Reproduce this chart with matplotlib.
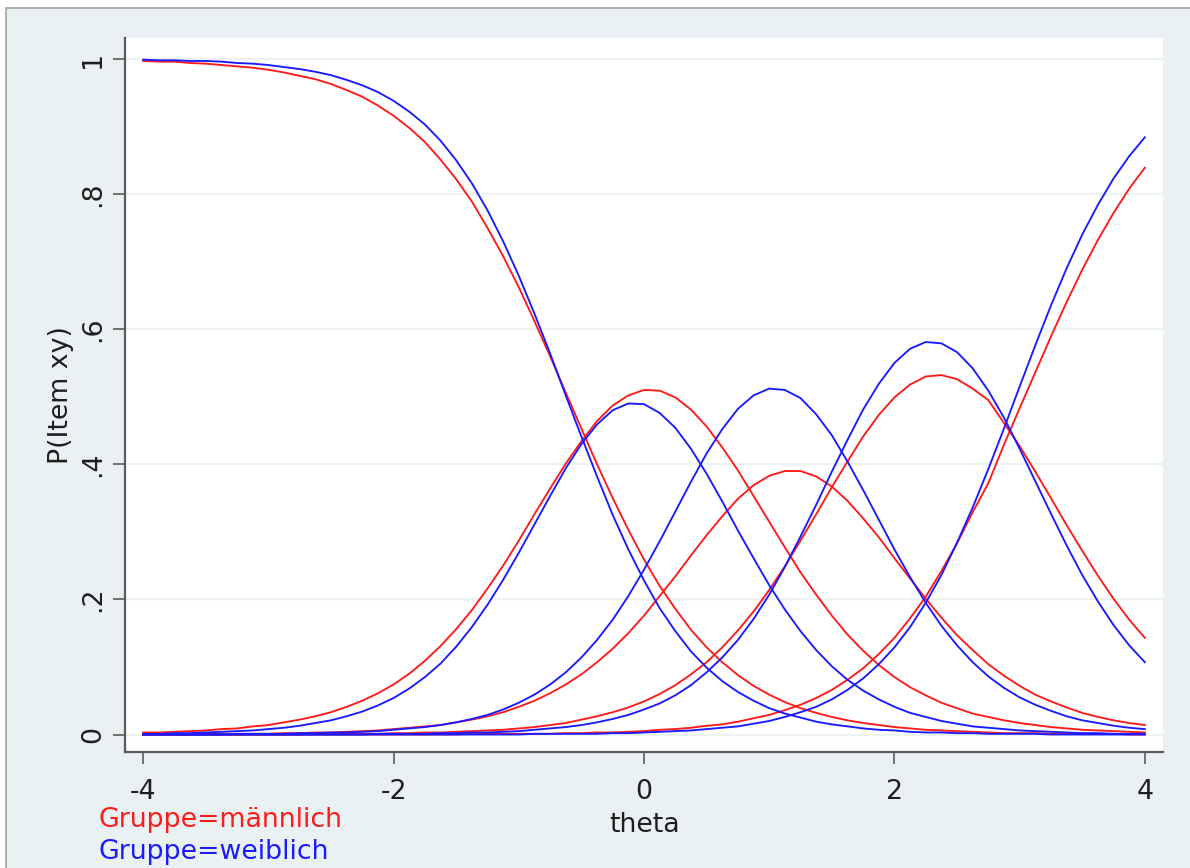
import matplotlib
matplotlib.use('Agg')
import matplotlib.pyplot as plt
from matplotlib.patches import Rectangle

plt.rcParams['font.family'] = ['DejaVu Sans']

# ---------------- data ----------------
theta = [-4.000, -3.875, -3.750, -3.625, -3.500, -3.375, -3.250, -3.125, -3.000, -2.875,
         -2.750, -2.625, -2.500, -2.375, -2.250, -2.125, -2.000, -1.875, -1.750, -1.625,
         -1.500, -1.375, -1.250, -1.125, -1.000, -0.875, -0.750, -0.625, -0.500, -0.375,
         -0.250, -0.125, 0.000, 0.125, 0.250, 0.375, 0.500, 0.625, 0.750, 0.875,
         1.000, 1.125, 1.250, 1.375, 1.500, 1.625, 1.750, 1.875, 2.000, 2.125,
         2.250, 2.375, 2.500, 2.625, 2.750, 2.875, 3.000, 3.125, 3.250, 3.375,
         3.500, 3.625, 3.750, 3.875, 4.000]

# Gruppe = maennlich (red)
m_cat0 = [0.997, 0.996, 0.996, 0.994, 0.993, 0.991, 0.989, 0.987, 0.984, 0.980,
          0.975, 0.970, 0.963, 0.954, 0.944, 0.931, 0.916, 0.898, 0.877, 0.851,
          0.822, 0.789, 0.750, 0.708, 0.662, 0.612, 0.560, 0.506, 0.453, 0.400,
          0.350, 0.303, 0.259, 0.220, 0.186, 0.155, 0.129, 0.107, 0.088, 0.072,
          0.059, 0.048, 0.039, 0.032, 0.026, 0.021, 0.017, 0.014, 0.011, 0.009,
          0.007, 0.006, 0.005, 0.004, 0.003, 0.002, 0.002, 0.002, 0.001, 0.001,
          0.001, 0.001, 0.001, 0.000, 0.000]
m_cat1 = [0.003, 0.003, 0.004, 0.005, 0.006, 0.008, 0.009, 0.012, 0.014, 0.018,
          0.022, 0.027, 0.033, 0.041, 0.050, 0.061, 0.074, 0.090, 0.109, 0.131,
          0.156, 0.184, 0.216, 0.250, 0.287, 0.326, 0.364, 0.401, 0.434, 0.464,
          0.487, 0.502, 0.510, 0.509, 0.499, 0.481, 0.456, 0.425, 0.391, 0.353,
          0.315, 0.277, 0.240, 0.207, 0.176, 0.148, 0.124, 0.103, 0.085, 0.070,
          0.058, 0.047, 0.039, 0.031, 0.026, 0.021, 0.017, 0.014, 0.011, 0.009,
          0.007, 0.006, 0.005, 0.004, 0.003]
m_cat2 = [0.000, 0.000, 0.000, 0.000, 0.001, 0.001, 0.001, 0.001, 0.001, 0.002,
          0.002, 0.003, 0.003, 0.004, 0.005, 0.006, 0.008, 0.010, 0.012, 0.014,
          0.018, 0.022, 0.027, 0.033, 0.041, 0.050, 0.061, 0.074, 0.089, 0.107,
          0.127, 0.150, 0.176, 0.205, 0.234, 0.265, 0.295, 0.323, 0.349, 0.369,
          0.383, 0.390, 0.390, 0.382, 0.367, 0.346, 0.320, 0.292, 0.261, 0.231,
          0.201, 0.173, 0.147, 0.125, 0.104, 0.087, 0.072, 0.059, 0.049, 0.040,
          0.032, 0.026, 0.021, 0.017, 0.014]
m_cat3 = [0.000, 0.000, 0.000, 0.000, 0.000, 0.000, 0.000, 0.000, 0.000, 0.000,
          0.000, 0.001, 0.001, 0.001, 0.001, 0.001, 0.002, 0.002, 0.003, 0.003,
          0.004, 0.005, 0.006, 0.007, 0.009, 0.011, 0.014, 0.017, 0.022, 0.027,
          0.033, 0.040, 0.049, 0.060, 0.073, 0.089, 0.107, 0.129, 0.154, 0.182,
          0.214, 0.249, 0.287, 0.326, 0.366, 0.404, 0.441, 0.473, 0.499, 0.518,
          0.530, 0.532, 0.526, 0.512, 0.495, 0.461, 0.427, 0.389, 0.350, 0.310,
          0.272, 0.235, 0.201, 0.170, 0.143]
m_cat4 = [0.000, 0.000, 0.000, 0.000, 0.000, 0.000, 0.000, 0.000, 0.000, 0.000,
          0.000, 0.000, 0.000, 0.000, 0.000, 0.000, 0.000, 0.000, 0.000, 0.000,
          0.000, 0.001, 0.001, 0.001, 0.001, 0.001, 0.001, 0.002, 0.002, 0.003,
          0.003, 0.004, 0.005, 0.007, 0.008, 0.010, 0.013, 0.015, 0.019, 0.024,
          0.029, 0.036, 0.044, 0.054, 0.066, 0.081, 0.098, 0.119, 0.143, 0.172,
          0.204, 0.242, 0.283, 0.329, 0.372, 0.429, 0.483, 0.536, 0.589, 0.640,
          0.688, 0.732, 0.772, 0.808, 0.839]

# Gruppe = weiblich (blue)
w_cat0 = [0.999, 0.998, 0.998, 0.997, 0.997, 0.996, 0.994, 0.993, 0.991, 0.988,
          0.985, 0.981, 0.976, 0.969, 0.961, 0.951, 0.938, 0.922, 0.903, 0.879,
          0.850, 0.816, 0.776, 0.730, 0.679, 0.623, 0.564, 0.502, 0.441, 0.382,
          0.325, 0.274, 0.228, 0.187, 0.153, 0.123, 0.099, 0.079, 0.063, 0.050,
          0.039, 0.031, 0.025, 0.019, 0.015, 0.012, 0.009, 0.007, 0.006, 0.004,
          0.003, 0.003, 0.002, 0.002, 0.001, 0.001, 0.001, 0.001, 0.000, 0.000,
          0.000, 0.000, 0.000, 0.000, 0.000]
w_cat1 = [0.001, 0.001, 0.002, 0.002, 0.003, 0.004, 0.005, 0.006, 0.008, 0.010,
          0.013, 0.017, 0.021, 0.027, 0.034, 0.043, 0.054, 0.068, 0.085, 0.105,
          0.130, 0.159, 0.192, 0.229, 0.269, 0.311, 0.353, 0.394, 0.430, 0.459,
          0.480, 0.490, 0.489, 0.476, 0.454, 0.423, 0.386, 0.345, 0.302, 0.261,
          0.221, 0.185, 0.153, 0.125, 0.101, 0.081, 0.065, 0.052, 0.041, 0.032,
          0.026, 0.020, 0.016, 0.012, 0.010, 0.008, 0.006, 0.005, 0.004, 0.003,
          0.002, 0.002, 0.001, 0.001, 0.001]
w_cat2 = [0.000, 0.000, 0.000, 0.000, 0.000, 0.000, 0.001, 0.001, 0.001, 0.001,
          0.002, 0.002, 0.003, 0.003, 0.004, 0.005, 0.007, 0.009, 0.011, 0.014,
          0.018, 0.023, 0.029, 0.037, 0.047, 0.059, 0.074, 0.092, 0.114, 0.140,
          0.170, 0.205, 0.244, 0.286, 0.330, 0.374, 0.416, 0.452, 0.482, 0.502,
          0.512, 0.510, 0.498, 0.474, 0.443, 0.404, 0.362, 0.318, 0.274, 0.233,
          0.195, 0.161, 0.132, 0.107, 0.086, 0.069, 0.055, 0.044, 0.035, 0.027,
          0.021, 0.017, 0.013, 0.010, 0.008]
w_cat3 = [0.000, 0.000, 0.000, 0.000, 0.000, 0.000, 0.000, 0.000, 0.000, 0.000,
          0.000, 0.000, 0.000, 0.000, 0.000, 0.001, 0.001, 0.001, 0.001, 0.002,
          0.002, 0.003, 0.003, 0.004, 0.005, 0.007, 0.009, 0.011, 0.014, 0.018,
          0.023, 0.029, 0.037, 0.046, 0.058, 0.073, 0.092, 0.114, 0.140, 0.171,
          0.207, 0.248, 0.293, 0.340, 0.389, 0.436, 0.481, 0.519, 0.550, 0.571,
          0.581, 0.579, 0.566, 0.542, 0.509, 0.469, 0.423, 0.375, 0.327, 0.280,
          0.236, 0.197, 0.162, 0.132, 0.107]
w_cat4 = [0.000, 0.000, 0.000, 0.000, 0.000, 0.000, 0.000, 0.000, 0.000, 0.000,
          0.000, 0.000, 0.000, 0.000, 0.000, 0.000, 0.000, 0.000, 0.000, 0.000,
          0.000, 0.000, 0.000, 0.000, 0.000, 0.001, 0.001, 0.001, 0.001, 0.001,
          0.002, 0.002, 0.003, 0.004, 0.005, 0.006, 0.008, 0.010, 0.012, 0.016,
          0.020, 0.026, 0.033, 0.041, 0.052, 0.066, 0.083, 0.104, 0.129, 0.159,
          0.195, 0.236, 0.284, 0.336, 0.393, 0.453, 0.515, 0.576, 0.635, 0.690,
          0.740, 0.784, 0.823, 0.856, 0.884]

y_ticks = [0, 0.2, 0.4, 0.6, 0.8, 1.0]
y_ticklabels = ['0', '.2', '.4', '.6', '.8', '1']
x_ticks = [-4, -2, 0, 2, 4]
x_ticklabels = ['-4', '-2', '0', '2', '4']
x_title = 'theta'
y_title = 'P(Item xy)'
legend_labels = ['Gruppe=männlich', 'Gruppe=weiblich']

# ---------------- style ----------------
W, H = 1190, 868
BG = '#EAF1F3'
AXC = '#5A5A5A'
TXT = '#1E1E1E'
RED = '#FF1A1A'
BLUE = '#1A1AFF'
FS = 19.3

fig = plt.figure(figsize=(W / 100, H / 100), dpi=100)
fig.patch.set_facecolor('white')
fig.patches.append(Rectangle((6 / W, -0.02), 1.05, 1 - 8 / H + 0.02,
                             transform=fig.transFigure, facecolor=BG,
                             edgecolor='#A8A8A8', lw=1.3, zorder=-10))

ax = fig.add_axes([125 / W, 1 - 752 / H, (1163 - 125) / W, (752 - 38) / H])
ax.set_facecolor('white')

m_series = [m_cat0, m_cat1, m_cat2, m_cat3, m_cat4]
w_series = [w_cat0, w_cat1, w_cat2, w_cat3, w_cat4]
for s in m_series:
    ax.plot(theta, s, color=RED, lw=1.35, solid_joinstyle='round', zorder=3)
for s in w_series:
    ax.plot(theta, s, color=BLUE, lw=1.35, solid_joinstyle='round', zorder=3)

ax.set_xlim(-4.145, 4.145)
ax.set_ylim(-0.0259, 1.031)

ax.set_yticks(y_ticks)
ax.set_yticklabels(y_ticklabels, rotation=90, va='center', fontsize=FS)
ax.set_xticks(x_ticks)
ax.set_xticklabels(x_ticklabels, fontsize=FS)
ax.tick_params(axis='both', direction='out', length=8.5, width=1.2, color=AXC,
               labelcolor=TXT)
ax.tick_params(axis='x', pad=11)
ax.tick_params(axis='y', pad=5)

ax.grid(axis='y', color='#EDF2F3', lw=1.6, zorder=0)
ax.set_axisbelow(True)

for side in ['top', 'right']:
    ax.spines[side].set_visible(False)
for side in ['left', 'bottom']:
    ax.spines[side].set_color(AXC)
    ax.spines[side].set_linewidth(1.6)

ax.set_xlabel(x_title, fontsize=FS, color=TXT)
ax.xaxis.label.set_verticalalignment('baseline')
ax.xaxis.set_label_coords((645 - 125) / 1038, (752 - 832) / 714)
ax.set_ylabel(y_title, fontsize=FS, color=TXT)
ax.yaxis.set_label_coords((74 - 125) / 1038, 0.5)

fig.text(98 / W, 1 - 827 / H, legend_labels[0], color=RED, fontsize=FS,
         ha='left', va='baseline')
fig.text(98 / W, 1 - 859 / H, legend_labels[1], color=BLUE, fontsize=FS,
         ha='left', va='baseline')

fig.savefig('out.png', dpi=100, facecolor=fig.get_facecolor())
